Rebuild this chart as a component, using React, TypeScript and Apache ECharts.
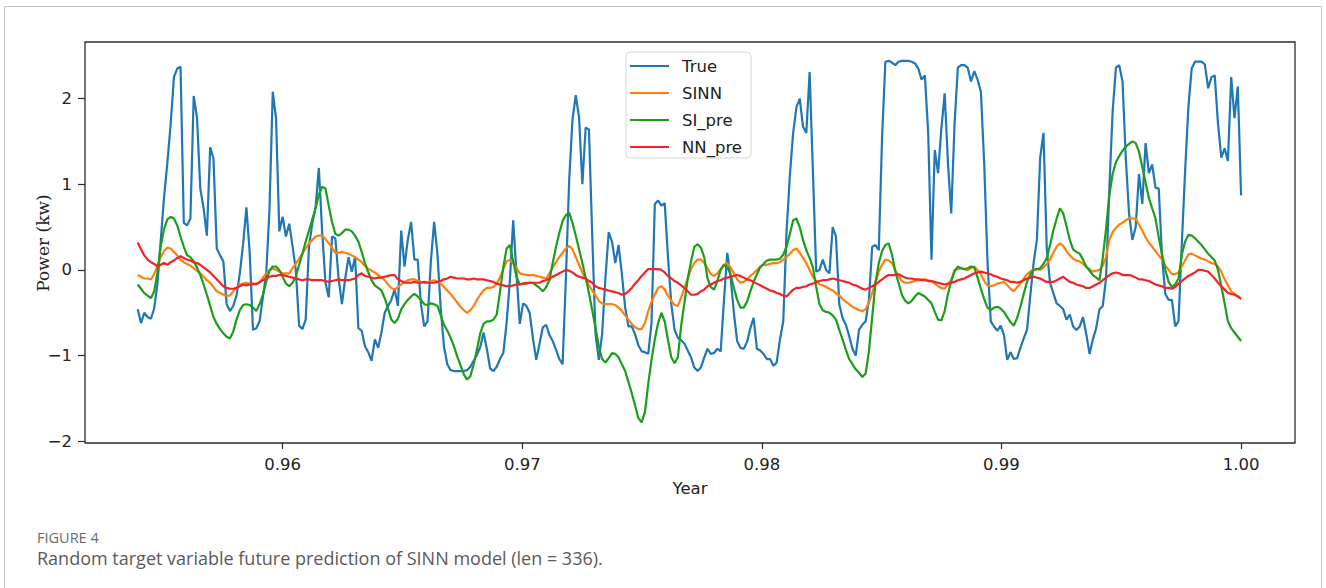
import React, { useEffect, useRef } from "react";
import * as echarts from "echarts";

const X_START = 0.95395;
const X_END = 1.0;
const xTicks = [0.96, 0.97, 0.98, 0.99, 1.0];
const yTicks = [-2, -1, 0, 1, 2];
const seriesNames = ["True", "SINN", "SI_pre", "NN_pre"];
const seriesColors = ["#1f77b4", "#ff7f0e", "#1c9e1c", "#f02424"];

const trueVals = [
  -0.46, -0.62, -0.5, -0.55, -0.57, -0.45, -0.16, 0.35, 0.85, 1.25,
  1.7, 2.25, 2.35, 2.37, 0.55, 0.52, 0.6, 2.03, 1.78, 0.95,
  0.72, 0.4, 1.43, 1.3, 0.25, 0.17, 0.1, -0.4, -0.48, -0.42,
  -0.3, -0.04, 0.3, 0.73, 0.2, -0.7, -0.68, -0.6, -0.32, -0.05,
  0.7, 2.08, 1.77, 0.45, 0.62, 0.39, 0.54, 0.28, 0.0, -0.65,
  -0.69, -0.58, 0.27, 0.54, 0.73, 1.19, 0.45, -0.15, -0.32, 0.39,
  0.37, -0.1, -0.4, -0.1, 0.15, -0.02, 0.15, -0.68, -0.71, -0.89,
  -0.96, -1.06, -0.81, -0.91, -0.73, -0.5, -0.42, -0.35, -0.23, -0.42,
  0.46, 0.04, 0.35, 0.56, 0.12, 0.12, -0.4, -0.66, -0.6, 0.1,
  0.56, 0.19, -0.45, -0.9, -1.1, -1.17, -1.18, -1.18, -1.18, -1.18,
  -1.17, -1.13, -1.06, -0.99, -0.9, -0.73, -0.92, -1.15, -1.18, -1.13,
  -1.04, -0.97, -0.62, -0.12, 0.58, -0.04, -0.63, -0.39, -0.42, -0.5,
  -0.8, -1.05, -0.86, -0.67, -0.64, -0.76, -0.83, -0.93, -1.04, -1.1,
  -0.1, 1.05, 1.75, 2.04, 1.78, 1.0, 1.66, 1.64, 0.4, -0.75,
  -1.05, -0.75, -0.1, 0.44, 0.33, 0.08, 0.29, -0.05, -0.44, -0.66,
  -0.66, -0.75, -0.88, -0.95, -0.96, -0.98, -0.62, 0.77, 0.81, 0.75,
  0.78, 0.15, -0.4, -0.7, -0.79, -0.82, -0.86, -0.94, -1.02, -1.14,
  -1.18, -1.14, -1.02, -0.92, -0.98, -0.97, -0.92, -0.95, -0.35, 0.2,
  -0.08, -0.5, -0.83, -0.91, -0.92, -0.84, -0.68, -0.56, -0.92, -0.94,
  -0.98, -1.04, -1.04, -1.12, -1.08, -0.81, -0.6, 0.45, 1.1, 1.6,
  1.9, 2.0, 1.67, 1.6, 2.31, 1.15, -0.02, 0.0, 0.12, 0.0,
  -0.04, 0.5, 0.39, -0.4, -0.56, -0.64, -0.77, -0.92, -1.0, -0.7,
  -0.64, -0.6, -0.35, 0.27, 0.29, 0.23, 1.55, 2.43, 2.44, 2.42,
  2.39, 2.43, 2.44, 2.44, 2.44, 2.43, 2.41, 2.35, 2.22, 2.27,
  1.6, 0.12, 1.4, 1.13, 1.65, 2.06, 1.25, 0.66, 1.7, 2.36,
  2.39, 2.39, 2.36, 2.2, 2.32, 2.22, 2.08, 1.25, 0.1, -0.6,
  -0.66, -0.71, -0.65, -0.76, -1.05, -0.96, -1.04, -1.03, -0.91, -0.8,
  -0.7, -0.3, 0.08, 0.35, 1.31, 1.6, 0.25, -0.15, -0.27, -0.39,
  -0.42, -0.46, -0.58, -0.52, -0.66, -0.7, -0.66, -0.55, -0.75, -0.98,
  -0.81, -0.68, -0.46, -0.42, -0.1, 0.95, 1.85, 2.36, 2.39, 2.2,
  1.3, 0.65, 0.35, 0.5, 1.12, 0.77, 1.48, 1.13, 1.23, 0.96,
  0.95, 0.15, -0.28, -0.35, -0.35, -0.66, -0.6, 0.3, 1.15, 1.9,
  2.35, 2.43, 2.43, 2.43, 2.4, 2.12, 2.25, 2.27, 1.7, 1.31,
  1.42, 1.27, 2.25, 1.77, 2.14, 0.87,
];

const sinnVals = [
  -0.06, -0.08, -0.1, -0.1, -0.11, -0.05, 0.05, 0.15, 0.22, 0.26,
  0.25, 0.21, 0.17, 0.12, 0.09, 0.07, 0.05, 0.02, -0.01, -0.04,
  -0.08, -0.12, -0.15, -0.2, -0.25, -0.27, -0.29, -0.3, -0.3, -0.25,
  -0.21, -0.17, -0.16, -0.15, -0.16, -0.17, -0.16, -0.15, -0.09, -0.04,
  0.0, 0.02, 0.0, -0.02, -0.04, -0.04, -0.04, 0.02, 0.07, 0.13,
  0.19, 0.25, 0.31, 0.35, 0.39, 0.4, 0.4, 0.36, 0.31, 0.26,
  0.2, 0.2, 0.21, 0.2, 0.19, 0.17, 0.15, 0.12, 0.09, 0.05,
  0.01, -0.01, -0.03, -0.06, -0.09, -0.12, -0.17, -0.21, -0.23, -0.2,
  -0.17, -0.14, -0.12, -0.11, -0.11, -0.13, -0.14, -0.15, -0.15, -0.13,
  -0.12, -0.14, -0.16, -0.2, -0.24, -0.28, -0.33, -0.38, -0.43, -0.47,
  -0.5, -0.47, -0.42, -0.35, -0.29, -0.24, -0.21, -0.21, -0.2, -0.16,
  -0.09, 0.01, 0.1, 0.12, 0.08, 0.02, -0.04, -0.05, -0.06, -0.06,
  -0.06, -0.07, -0.08, -0.09, -0.1, -0.04, 0.03, 0.09, 0.15, 0.2,
  0.25, 0.28, 0.24, 0.15, 0.06, -0.03, -0.11, -0.18, -0.24, -0.3,
  -0.36, -0.39, -0.4, -0.4, -0.4, -0.41, -0.44, -0.48, -0.53, -0.58,
  -0.63, -0.67, -0.69, -0.69, -0.62, -0.48, -0.37, -0.29, -0.21, -0.19,
  -0.23, -0.3, -0.36, -0.41, -0.42, -0.32, -0.21, -0.1, 0.01, 0.08,
  0.12, 0.12, 0.08, 0.02, -0.05, -0.07, -0.04, 0.01, 0.06, 0.08,
  0.03, -0.04, -0.11, -0.15, -0.14, -0.11, -0.07, -0.04, 0.0, 0.04,
  0.06, 0.06, 0.07, 0.08, 0.08, 0.09, 0.12, 0.15, 0.19, 0.23,
  0.25, 0.2, 0.14, 0.08, 0.0, -0.08, -0.13, -0.17, -0.18, -0.2,
  -0.22, -0.24, -0.27, -0.3, -0.34, -0.37, -0.4, -0.43, -0.45, -0.47,
  -0.48, -0.46, -0.38, -0.27, -0.14, -0.02, 0.06, 0.12, 0.11, 0.08,
  0.0, -0.07, -0.13, -0.15, -0.15, -0.14, -0.13, -0.12, -0.11, -0.11,
  -0.12, -0.13, -0.16, -0.19, -0.21, -0.22, -0.17, -0.12, 0.0, 0.01,
  0.02, 0.01, 0.0, 0.02, 0.04, 0.0, -0.05, -0.13, -0.18, -0.19,
  -0.18, -0.16, -0.15, -0.14, -0.18, -0.22, -0.25, -0.2, -0.16, -0.1,
  -0.05, -0.02, 0.01, 0.01, 0.0, 0.03, 0.07, 0.12, 0.2, 0.27,
  0.31, 0.28, 0.22, 0.17, 0.13, 0.11, 0.1, 0.07, 0.03, 0.01,
  -0.02, -0.01, 0.0, 0.05, 0.15, 0.35, 0.44, 0.49, 0.53, 0.55,
  0.58, 0.6, 0.6, 0.6, 0.53, 0.46, 0.38, 0.32, 0.27, 0.22,
  0.17, 0.12, 0.05, 0.0, -0.05, -0.05, -0.03, 0.04, 0.11, 0.18,
  0.19, 0.17, 0.15, 0.13, 0.12, 0.1, 0.08, 0.07, 0.04, -0.02,
  -0.11, -0.18, -0.25, -0.28, -0.31, -0.33,
];

const siPreVals = [
  -0.17, -0.22, -0.27, -0.3, -0.33, -0.25, -0.03, 0.28, 0.48, 0.59,
  0.62, 0.6, 0.52, 0.39, 0.27, 0.17, 0.15, 0.1, 0.03, -0.06,
  -0.17, -0.29, -0.42, -0.55, -0.63, -0.69, -0.74, -0.78, -0.8, -0.72,
  -0.58, -0.47, -0.41, -0.4, -0.41, -0.44, -0.48, -0.4, -0.29, -0.14,
  -0.01, 0.04, 0.04, 0.0, -0.08, -0.16, -0.19, -0.15, -0.08, 0.06,
  0.19, 0.33, 0.46, 0.59, 0.72, 0.88, 0.97, 0.95, 0.75, 0.56,
  0.42, 0.4, 0.43, 0.47, 0.47, 0.45, 0.4, 0.33, 0.21, 0.08,
  -0.03, -0.12, -0.18, -0.21, -0.24, -0.33, -0.45, -0.58, -0.62, -0.57,
  -0.46, -0.4, -0.35, -0.31, -0.28, -0.31, -0.35, -0.4, -0.41, -0.39,
  -0.4, -0.42, -0.53, -0.64, -0.71, -0.79, -0.89, -1.01, -1.11, -1.22,
  -1.28, -1.24, -1.1, -0.93, -0.74, -0.63, -0.6, -0.6, -0.58, -0.52,
  -0.25, 0.03, 0.25, 0.29, 0.1, -0.08, -0.17, -0.16, -0.15, -0.15,
  -0.15, -0.18, -0.21, -0.25, -0.2, -0.12, 0.08, 0.27, 0.43, 0.57,
  0.64, 0.67, 0.55, 0.4, 0.24, 0.08, -0.09, -0.27, -0.47, -0.68,
  -0.89, -1.04, -1.08, -1.03, -0.97, -0.98, -1.02, -1.1, -1.18, -1.31,
  -1.44, -1.58, -1.73, -1.78, -1.66, -1.33, -1.05, -0.81, -0.62, -0.5,
  -0.6, -0.82, -1.02, -1.09, -1.02, -0.65, -0.38, -0.1, 0.1, 0.27,
  0.3, 0.26, 0.15, -0.1, -0.2, -0.23, -0.13, 0.0, 0.06, 0.03,
  -0.05, -0.21, -0.35, -0.44, -0.44, -0.37, -0.25, -0.14, -0.05, 0.03,
  0.07, 0.11, 0.12, 0.12, 0.12, 0.13, 0.18, 0.27, 0.42, 0.58,
  0.6, 0.5, 0.35, 0.23, 0.14, 0.03, -0.2, -0.4, -0.47, -0.49,
  -0.5, -0.53, -0.58, -0.7, -0.81, -0.93, -1.04, -1.1, -1.16, -1.2,
  -1.25, -1.21, -0.95, -0.55, -0.15, 0.08, 0.22, 0.29, 0.31, 0.18,
  -0.02, -0.15, -0.29, -0.36, -0.39, -0.36, -0.31, -0.27, -0.29, -0.31,
  -0.35, -0.39, -0.49, -0.58, -0.59, -0.48, -0.28, -0.13, -0.02, 0.04,
  0.02, 0.01, 0.02, 0.04, 0.03, -0.09, -0.22, -0.34, -0.44, -0.47,
  -0.44, -0.43, -0.45, -0.49, -0.55, -0.61, -0.65, -0.56, -0.43, -0.28,
  -0.14, -0.05, 0.0, 0.01, 0.02, 0.07, 0.14, 0.29, 0.46, 0.6,
  0.72, 0.66, 0.51, 0.35, 0.24, 0.21, 0.19, 0.12, 0.04, -0.01,
  -0.06, -0.09, -0.12, 0.14, 0.48, 0.87, 1.12, 1.26, 1.33, 1.39,
  1.44, 1.47, 1.5, 1.48, 1.38, 1.2, 1.02, 0.84, 0.72, 0.6,
  0.38, 0.18, 0.0, -0.14, -0.2, -0.17, -0.1, 0.18, 0.33, 0.41,
  0.4, 0.37, 0.33, 0.29, 0.24, 0.19, 0.15, 0.11, 0.0, -0.19,
  -0.39, -0.6, -0.68, -0.73, -0.78, -0.83,
];

const nnPreVals = [
  0.32, 0.24, 0.17, 0.12, 0.09, 0.07, 0.04, 0.06, 0.08, 0.06,
  0.09, 0.11, 0.14, 0.16, 0.14, 0.12, 0.11, 0.09, 0.08, 0.06,
  0.03, 0.0, -0.03, -0.07, -0.11, -0.15, -0.19, -0.21, -0.22, -0.22,
  -0.21, -0.19, -0.17, -0.18, -0.17, -0.16, -0.17, -0.14, -0.12, -0.1,
  -0.08, -0.07, -0.07, -0.06, -0.06, -0.07, -0.08, -0.09, -0.1, -0.11,
  -0.12, -0.11, -0.11, -0.12, -0.12, -0.12, -0.12, -0.13, -0.14, -0.13,
  -0.12, -0.11, -0.12, -0.12, -0.12, -0.11, -0.1, -0.06, -0.04, -0.07,
  -0.08, -0.09, -0.1, -0.09, -0.09, -0.08, -0.07, -0.06, -0.06, -0.11,
  -0.13, -0.15, -0.15, -0.15, -0.14, -0.15, -0.15, -0.14, -0.15, -0.15,
  -0.15, -0.14, -0.13, -0.11, -0.1, -0.08, -0.09, -0.1, -0.1, -0.1,
  -0.11, -0.11, -0.1, -0.11, -0.11, -0.11, -0.12, -0.13, -0.14, -0.16,
  -0.17, -0.18, -0.19, -0.19, -0.18, -0.17, -0.17, -0.16, -0.16, -0.15,
  -0.15, -0.15, -0.15, -0.13, -0.12, -0.1, -0.08, -0.06, -0.04, -0.02,
  0.0, -0.01, -0.03, -0.06, -0.08, -0.09, -0.1, -0.13, -0.15, -0.19,
  -0.21, -0.22, -0.23, -0.24, -0.25, -0.26, -0.27, -0.29, -0.28, -0.25,
  -0.21, -0.16, -0.12, -0.07, -0.03, 0.01, 0.01, 0.01, 0.01, 0.0,
  -0.03, -0.07, -0.1, -0.13, -0.15, -0.18, -0.21, -0.25, -0.29, -0.29,
  -0.28, -0.25, -0.23, -0.19, -0.17, -0.15, -0.13, -0.12, -0.1, -0.09,
  -0.08, -0.07, -0.06, -0.07, -0.09, -0.11, -0.12, -0.14, -0.16, -0.18,
  -0.2, -0.22, -0.24, -0.25, -0.27, -0.28, -0.3, -0.31, -0.27, -0.23,
  -0.21, -0.21, -0.2, -0.19, -0.17, -0.16, -0.14, -0.13, -0.12, -0.12,
  -0.11, -0.1, -0.11, -0.12, -0.13, -0.14, -0.15, -0.17, -0.18, -0.2,
  -0.22, -0.23, -0.21, -0.19, -0.17, -0.14, -0.11, -0.08, -0.06, -0.06,
  -0.06, -0.05, -0.07, -0.09, -0.1, -0.1, -0.11, -0.11, -0.12, -0.12,
  -0.13, -0.13, -0.14, -0.15, -0.16, -0.17, -0.16, -0.15, -0.14, -0.12,
  -0.11, -0.1, -0.08, -0.06, -0.04, -0.03, -0.02, -0.03, -0.04, -0.05,
  -0.07, -0.08, -0.1, -0.11, -0.12, -0.14, -0.14, -0.15, -0.14, -0.12,
  -0.1, -0.09, -0.08, -0.09, -0.1, -0.12, -0.14, -0.14, -0.14, -0.12,
  -0.1, -0.08, -0.11, -0.14, -0.15, -0.17, -0.18, -0.19, -0.21, -0.21,
  -0.19, -0.17, -0.15, -0.12, -0.09, -0.06, -0.04, -0.03, -0.04, -0.06,
  -0.06, -0.06, -0.07, -0.09, -0.11, -0.11, -0.12, -0.13, -0.15, -0.17,
  -0.18, -0.19, -0.21, -0.21, -0.22, -0.2, -0.16, -0.13, -0.1, -0.07,
  -0.05, -0.03, 0.0, 0.0, -0.01, -0.02, -0.06, -0.1, -0.15, -0.19,
  -0.23, -0.27, -0.28, -0.29, -0.31, -0.34,
];

const years = trueVals.map(
  (_, i) => X_START + (i * (X_END - X_START)) / (trueVals.length - 1)
);

const allValues = [trueVals, sinnVals, siPreVals, nnPreVals];

const TICK_FONT = "DejaVu Sans";

export default function App() {
  const ref = useRef<HTMLDivElement>(null);

  useEffect(() => {
    document.body.style.margin = "0";
    const chart = echarts.init(ref.current as HTMLDivElement, null, {
      renderer: "svg",
    });

    const series = seriesNames.map((name, k) => ({
      name,
      type: "line",
      data: allValues[k].map((v, i) => [years[i], v]),
      showSymbol: false,
      symbol: "none",
      smooth: false,
      lineStyle: { color: seriesColors[k], width: 2.2 },
      itemStyle: { color: seriesColors[k] },
      emphasis: { disabled: true },
      silent: true,
      clip: true,
    }));

    chart.setOption({
      animation: false,
      backgroundColor: "#ffffff",
      grid: {
        left: 85,
        top: 42,
        width: 1210,
        height: 401,
        show: true,
        borderColor: "#2b2b2b",
        borderWidth: 1.3,
        backgroundColor: "transparent",
        containLabel: false,
      },
      legend: {
        data: seriesNames,
        orient: "vertical",
        left: 626,
        top: 52,
        icon: "rect",
        itemWidth: 39,
        itemHeight: 2.2,
        itemGap: 9,
        padding: [5, 9, 2, 4],
        backgroundColor: "rgba(255,255,255,0.85)",
        borderColor: "#d6d6d6",
        borderWidth: 1,
        borderRadius: 4,
        selectedMode: false,
        textStyle: {
          fontFamily: TICK_FONT,
          fontSize: 16.5,
          lineHeight: 18,
          height: 18,
          color: "#222",
          padding: [0, 0, 0, 8],
        },
      },
      xAxis: {
        type: "value",
        min: 0.95175,
        max: 1.00225,
        name: "Year",
        nameLocation: "middle",
        nameGap: 37,
        nameTextStyle: { fontFamily: TICK_FONT, fontSize: 16.5, color: "#222" },
        axisLine: { show: false, onZero: false },
        splitLine: { show: false },
        axisTick: {
          show: true,
          customValues: xTicks,
          length: 6,
          lineStyle: { color: "#2b2b2b", width: 1.2 },
        },
        axisLabel: {
          customValues: xTicks,
          formatter: (v: number) => v.toFixed(2),
          margin: 13,
          fontFamily: TICK_FONT,
          fontSize: 16.5,
          color: "#222",
        },
      },
      yAxis: {
        type: "value",
        min: -2.02,
        max: 2.66,
        axisLine: { show: false, onZero: false },
        splitLine: { show: false },
        axisTick: {
          show: true,
          customValues: yTicks,
          length: 7,
          lineStyle: { color: "#2b2b2b", width: 1.2 },
        },
        axisLabel: {
          customValues: yTicks,
          formatter: (v: number) =>
            v < 0 ? "\u2212" + String(Math.abs(v)) : String(v),
          margin: 13,
          fontFamily: TICK_FONT,
          fontSize: 16.5,
          color: "#222",
        },
      },
      graphic: [
        {
          type: "rect",
          silent: true,
          z: -10,
          shape: { x: 4.5, y: 6.5, width: 1317, height: 640 },
          style: { fill: "none", stroke: "#c4c4c4", lineWidth: 1 },
        },
        {
          type: "text",
          silent: true,
          x: 43,
          y: 243,
          rotation: Math.PI / 2,
          style: {
            text: "Power (kw)",
            fill: "#222",
            fontSize: 17,
            fontFamily: "DejaVu Serif",
            align: "center",
            verticalAlign: "middle",
          },
        },
        {
          type: "text",
          silent: true,
          x: 37,
          y: 537,
          style: {
            text: "FIGURE 4",
            fill: "#6a6a6a",
            fontSize: 14.5,
            lineHeight: 14,
            fontFamily: "Open Sans",
            verticalAlign: "middle",
          },
        },
        {
          type: "text",
          silent: true,
          x: 37,
          y: 558,
          style: {
            text: "Random target variable future prediction of SINN model (len = 336).",
            fill: "#5a5a5a",
            fontSize: 18,
            lineHeight: 18,
            fontFamily: "Open Sans",
            verticalAlign: "middle",
          },
        },
      ],
      series,
    });

    return () => chart.dispose();
  }, []);

  return (
    <div
      ref={ref}
      style={{ width: 1326, height: 588, background: "#ffffff" }}
    />
  );
}
